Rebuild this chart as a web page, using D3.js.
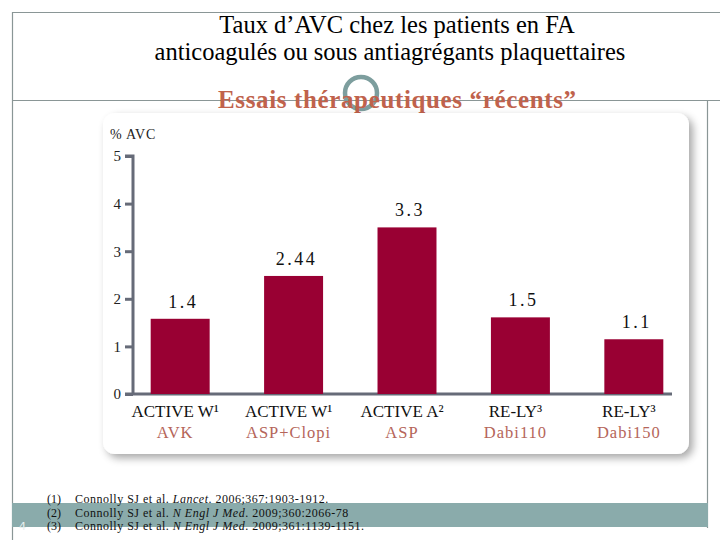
<!DOCTYPE html>
<html><head><meta charset="utf-8">
<script src="https://cdn.jsdelivr.net/npm/d3@7"></script>
<style>body{margin:0;background:#fff}svg{display:block}svg text{font-family:"Liberation Serif","Noto Serif",serif}</style>
</head><body>
<script>
const categories = ["ACTIVE W¹|AVK", "ACTIVE W¹|ASP+Clopi", "ACTIVE A²|ASP", "RE-LY³|Dabi110", "RE-LY³|Dabi150"];
const trialNames = ["ACTIVE W¹", "ACTIVE W¹", "ACTIVE A²", "RE-LY³", "RE-LY³"];
const armNames = ["AVK", "ASP+Clopi", "ASP", "Dabi110", "Dabi150"];
const barHeights = [1.58, 2.48, 3.5, 1.61, 1.15];
const valueLabels = ["1.4", "2.44", "3.3", "1.5", "1.1"];
const yTicks = [0, 1, 2, 3, 4, 5];
const references = [
  ["(1)", "Connolly SJ et al. ", "Lancet", ". 2006;367:1903-1912."],
  ["(2)", "Connolly SJ et al. ", "N Engl J Med", ". 2009;360:2066-78"],
  ["(3)", "Connolly SJ et al. ", "N Engl J Med", ". 2009;361:1139-1151."]
];

const W = 720, H = 540;
const svg = d3.select("body").append("svg").attr("width", W).attr("height", H);

const defs = svg.append("defs");
const f = defs.append("filter").attr("id","sh").attr("x","-10%").attr("y","-10%").attr("width","130%").attr("height","130%");
f.append("feGaussianBlur").attr("in","SourceAlpha").attr("stdDeviation",4);
f.append("feOffset").attr("dx",4).attr("dy",4).attr("result","o");
f.append("feComponentTransfer").append("feFuncA").attr("type","linear").attr("slope",0.35);
const m = f.append("feMerge"); m.append("feMergeNode"); m.append("feMergeNode").attr("in","SourceGraphic");

const frame = "#8a9696";
svg.append("line").attr("x1",12).attr("x2",W).attr("y1",12.5).attr("y2",12.5).attr("stroke",frame).attr("stroke-width",1.2);
svg.append("line").attr("x1",12.5).attr("x2",12.5).attr("y1",12).attr("y2",H).attr("stroke",frame).attr("stroke-width",1.2);
svg.append("line").attr("x1",12).attr("x2",W).attr("y1",100.5).attr("y2",100.5).attr("stroke",frame).attr("stroke-width",1.2);
svg.append("line").attr("x1",707.5).attr("x2",707.5).attr("y1",100).attr("y2",528).attr("stroke",frame).attr("stroke-width",1.2);

svg.append("rect").attr("x",12).attr("y",503).attr("width",696).attr("height",24).attr("fill","#8aabab");
svg.append("text").attr("x",19).attr("y",530).style("font-family","'DejaVu Sans', sans-serif").attr("font-size",11).attr("fill","#e8f0f0").text("4");

svg.append("text").attr("x",397).attr("y",33).attr("text-anchor","middle").attr("font-size",24.5).attr("fill","#000").text("Taux d’AVC chez les patients en FA");
svg.append("text").attr("x",390).attr("y",60).attr("text-anchor","middle").attr("font-size",24.5).attr("fill","#000").text("anticoagulés ou sous antiagrégants plaquettaires");
svg.append("circle").attr("cx",361).attr("cy",93).attr("r",16).attr("fill","none").attr("stroke","#7d9e9e").attr("stroke-width",4.5);
svg.append("text").attr("x",397).attr("y",108).attr("text-anchor","middle").attr("font-weight","bold").attr("font-size",25).attr("fill","#c0624c")
  .attr("textLength",358).attr("lengthAdjust","spacing").text("Essais thérapeutiques “récents”");

svg.append("rect").attr("x",103).attr("y",113).attr("width",586).attr("height",341).attr("rx",12).attr("fill","#fff").attr("filter","url(#sh)");

const y = d3.scaleLinear().domain([0,5]).range([394,156]);
const x = d3.scaleBand().domain(categories).range([128,686]).paddingInner(0.48).paddingOuter(0.2);
const axisCol = "#666b78";

svg.append("text").attr("x",110).attr("y",139).attr("font-size",14).attr("letter-spacing",0.8).attr("fill","#222").text("% AVC");

const ya = svg.append("g").attr("transform","translate(133,0)").call(d3.axisLeft(y).tickValues(yTicks).tickSize(8).tickFormat(d3.format("d")));
ya.select(".domain").attr("stroke",axisCol).attr("stroke-width",3).attr("d",`M-8,${y(5)}H0V${y(0)}`);
ya.selectAll(".tick line").attr("stroke",axisCol).attr("stroke-width",3);
ya.selectAll(".tick text").attr("font-size",15).attr("fill","#222").attr("x",-12);

svg.append("line").attr("x1",125).attr("x2",672).attr("y1",y(0)).attr("y2",y(0)).attr("stroke",axisCol).attr("stroke-width",3);

svg.append("g").selectAll("rect").data(categories).join("rect")
  .attr("x", d => x(d)).attr("width", x.bandwidth())
  .attr("y", (d,i) => y(barHeights[i])).attr("height", (d,i) => y(0) - y(barHeights[i]))
  .attr("fill","#990033");

svg.append("g").selectAll("text").data(categories).join("text")
  .attr("x", d => x(d) + x.bandwidth()/2 + 3)
  .attr("y", (d,i) => y(barHeights[i]) - 11)
  .attr("text-anchor","middle").attr("font-size",18).attr("letter-spacing",2.5).attr("fill","#111")
  .text((d,i) => valueLabels[i]);

const cl = svg.append("g").selectAll("g").data(categories).join("g")
  .attr("transform", d => `translate(${x(d)+x.bandwidth()/2 - 5},0)`);
cl.append("text").attr("y",417).attr("text-anchor","middle").attr("font-size",17).attr("fill","#111")
  .text((d,i) => trialNames[i]);
cl.append("text").attr("y",438).attr("text-anchor","middle").attr("font-size",16.5).attr("letter-spacing",1).attr("fill","#b5655a")
  .text((d,i) => armNames[i]);

const rg = svg.append("g").selectAll("g").data(references).join("g")
  .attr("transform",(d,i)=>`translate(0,${503 + i*13.5})`);
rg.append("text").attr("x",47).attr("font-size",12).attr("fill","#111").text(d=>d[0]);
const rt = rg.append("text").attr("x",75).attr("font-size",12).attr("letter-spacing",0.5).attr("fill","#111");
rt.append("tspan").text(d=>d[1]);
rt.append("tspan").attr("font-style","italic").text(d=>d[2]);
rt.append("tspan").text(d=>d[3]);
</script>
</body></html>
